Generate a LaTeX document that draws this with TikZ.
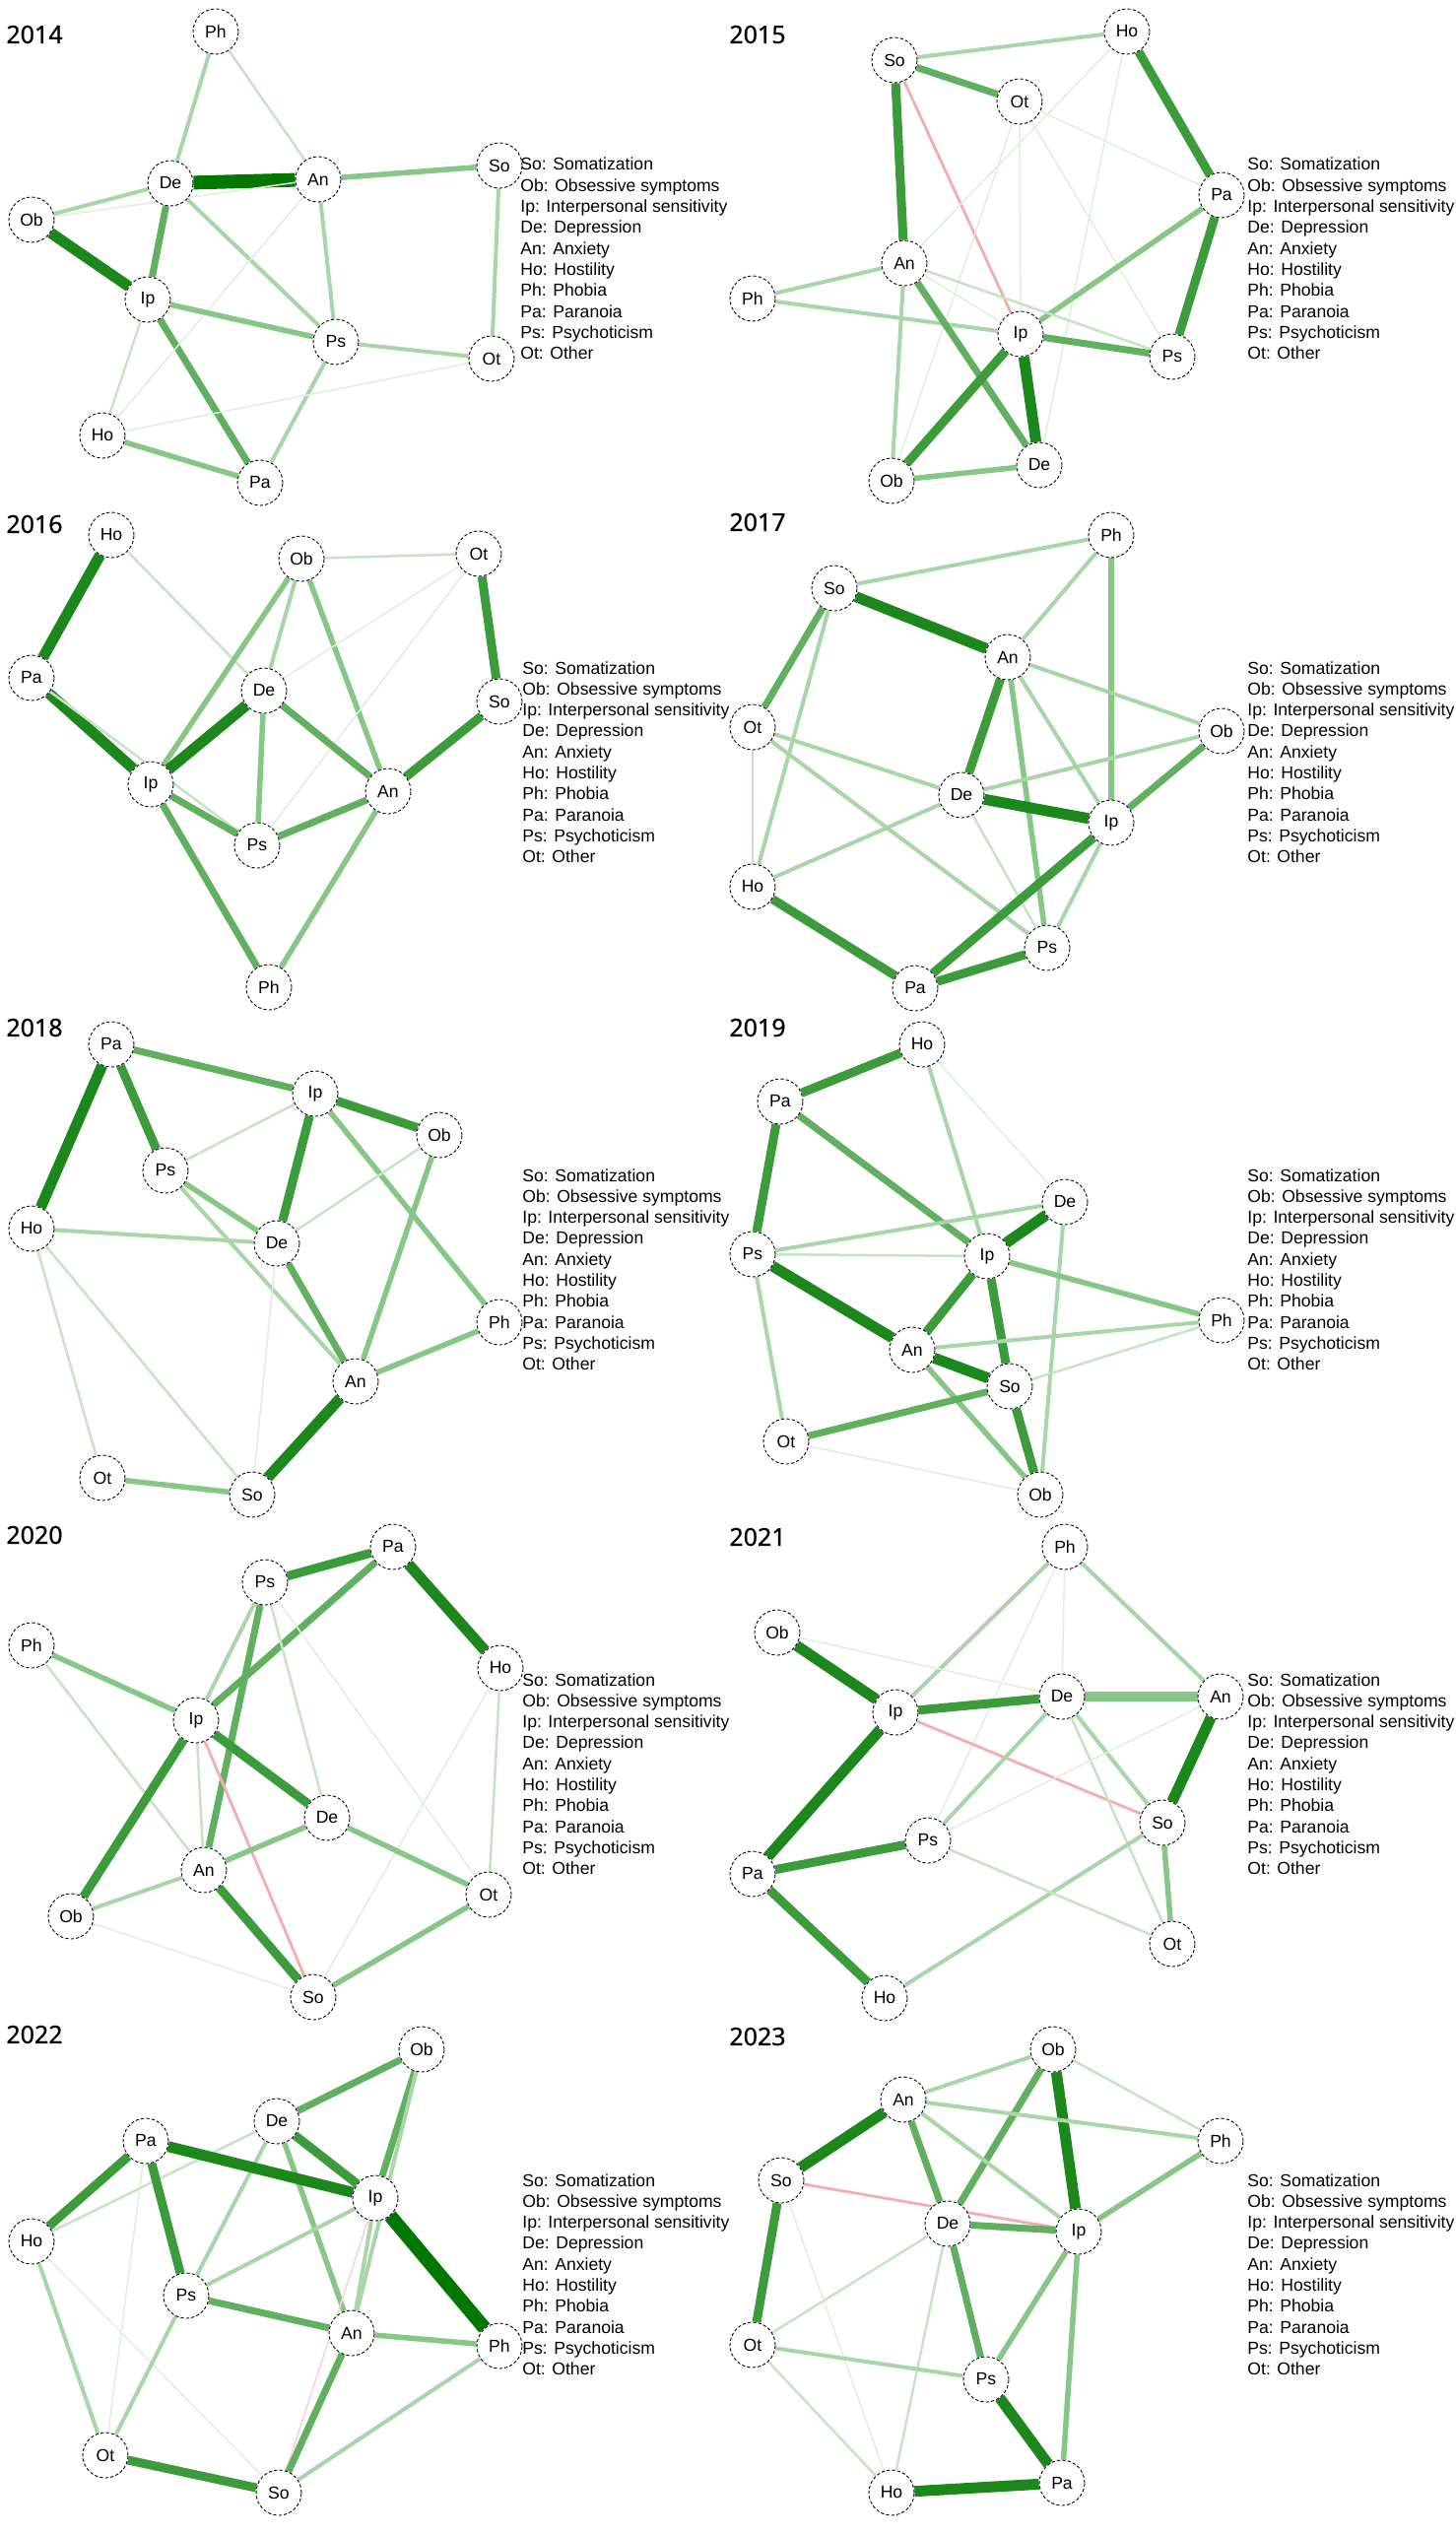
\documentclass[tikz,border=0pt]{standalone}
\usepackage{fontspec}
\setmainfont{Liberation Sans}
\newfontfamily\yearfont[FakeBold=0.6]{Noto Sans}
\pgfdeclarelayer{back}
\pgfdeclarelayer{bg}
\pgfsetlayers{back,bg,main}
\definecolor{c1}{RGB}{222,239,222}
\definecolor{c2}{RGB}{196,228,196}
\definecolor{c3}{RGB}{168,214,168}
\definecolor{c4}{RGB}{134,198,134}
\definecolor{c5}{RGB}{96,176,96}
\definecolor{c6}{RGB}{60,156,60}
\definecolor{c7}{RGB}{28,136,28}
\definecolor{c8}{RGB}{0,120,0}
\definecolor{cneg}{RGB}{245,172,172}
\definecolor{cneg0}{RGB}{250,212,212}
\tikzset{
  x=0.5pt, y=-0.5pt,
  nd/.style={circle, draw=black, dash pattern=on 1.6pt off 1.1pt, line width=0.45pt,
    fill=white, minimum size=23pt, inner sep=0pt, font=\fontsize{8.8pt}{10pt}\selectfont},
  yr/.style={anchor=west, inner sep=0pt, font=\yearfont\fontsize{12.5pt}{14pt}\selectfont},
  leg/.style={anchor=base west, inner sep=0pt, font=\fontsize{8.8pt}{10pt}\selectfont},
  e1/.style={line width=0.75pt, draw=c1},
  e2/.style={line width=1.25pt, draw=c2},
  e3/.style={line width=2pt, draw=c3},
  e4/.style={line width=2.75pt, draw=c4},
  e5/.style={line width=3.5pt, draw=c5},
  e6/.style={line width=4.5pt, draw=c6},
  e7/.style={line width=5.5pt, draw=c7},
  e8/.style={line width=7pt, draw=c8},
  e4w/.style={line width=5pt, draw=c4},
  ng/.style={line width=1.4pt, draw=cneg},
  ngz/.style={line width=0.8pt, draw=cneg0},
}
\newcommand\legendat[3]{%
  \foreach \t [count=\i] in {So: Somatization, Ob: Obsessive symptoms, Ip: Interpersonal sensitivity, De: Depression, An: Anxiety, Ho: Hostility, Ph: Phobia, Pa: Paranoia, Ps: Psychoticism, Ot: Other}
    \node[leg] (#1L\i) at (#2, {#3+(\i-1)*21.3}) {\t};
}
\begin{document}
\begin{tikzpicture}
\begin{pgfonlayer}{back}
\fill[white] (0,0) rectangle (1477,2573);
\end{pgfonlayer}
\useasboundingbox (0,0) rectangle (1477,2573);

% ---------------- 2014
\node[yr] (Ayr) at (6,35) {2014};
\node[nd] (APh) at (219,32) {Ph};
\node[nd] (ADe) at (173,186) {De};
\node[nd] (AAn) at (323,182) {An};
\node[nd] (ASo) at (507,168) {So};
\node[nd] (AOb) at (32,223) {Ob};
\node[nd] (AIp) at (150,304) {Ip};
\node[nd] (APs) at (341,347) {Ps};
\node[nd] (AOt) at (499,364) {Ot};
\node[nd] (AHo) at (104,442) {Ho};
\node[nd] (APa) at (264,490) {Pa};
\legendat{A}{528}{173}
\begin{pgfonlayer}{bg}
\draw[e8] (ADe) -- (AAn);
\draw[e7] (AOb) -- (AIp);
\draw[e5] (ADe) -- (AIp);
\draw[e5] (AIp) -- (APa);
\draw[e4] (AAn) -- (ASo);
\draw[e3] (ASo) -- (AOt);
\draw[e3] (APh) -- (ADe);
\draw[e2] (APh) -- (AAn);
\draw[e3] (AOb) -- (ADe);
\draw[e1] (AOb) -- (AAn);
\draw[e3] (ADe) -- (APs);
\draw[e3] (AAn) -- (APs);
\draw[e1] (AAn) -- (AHo);
\draw[e4] (AIp) -- (APs);
\draw[e2] (AIp) -- (AHo);
\draw[e3] (APs) -- (AOt);
\draw[e3] (APs) -- (APa);
\draw[e4] (AHo) -- (APa);
\draw[e1] (AHo) -- (AOt);
\end{pgfonlayer}

% ---------------- 2015
\node[yr] (Byr) at (740,35) {2015};
\node[nd] (BHo) at (1144,32) {Ho};
\node[nd] (BSo) at (908,61) {So};
\node[nd] (BOt) at (1035,103) {Ot};
\node[nd] (BPa) at (1240,198) {Pa};
\node[nd] (BAn) at (918,267) {An};
\node[nd] (BPh) at (764,303) {Ph};
\node[nd] (BIp) at (1036,339) {Ip};
\node[nd] (BPs) at (1190,362) {Ps};
\node[nd] (BOb) at (905,488) {Ob};
\node[nd] (BDe) at (1055,472) {De};
\legendat{B}{1266}{173}
\begin{pgfonlayer}{bg}
\draw[e3] (BSo) -- (BHo);
\draw[e5] (BSo) -- (BOt);
\draw[e6] (BSo) -- (BAn);
\draw[ng] (BSo) -- (BIp);
\draw[e6] (BHo) -- (BPa);
\draw[e1] (BHo) -- (BAn);
\draw[e1] (BHo) -- (BDe);
\draw[e1] (BOt) -- (BPa);
\draw[e1] (BOt) -- (BIp);
\draw[e1] (BOt) -- (BOb);
\draw[e1] (BOt) -- (BPs);
\draw[e4] (BPa) -- (BIp);
\draw[e6] (BPa) -- (BPs);
\draw[e3] (BAn) -- (BPh);
\draw[e3] (BPh) -- (BIp);
\draw[e1] (BAn) -- (BIp);
\draw[e2] (BAn) -- (BPs);
\draw[e5] (BAn) -- (BDe);
\draw[e3] (BAn) -- (BOb);
\draw[e5] (BIp) -- (BPs);
\draw[e7] (BIp) -- (BDe);
\draw[e6] (BIp) -- (BOb);
\draw[e4] (BOb) -- (BDe);
\end{pgfonlayer}

% ---------------- 2016
\node[yr] (Cyr) at (6,532) {2016};
\node[nd] (CHo) at (113,543) {Ho};
\node[nd] (COb) at (306,567) {Ob};
\node[nd] (COt) at (486,562) {Ot};
\node[nd] (CPa) at (32,688) {Pa};
\node[nd] (CDe) at (268,701) {De};
\node[nd] (CSo) at (507,712) {So};
\node[nd] (CIp) at (153,796) {Ip};
\node[nd] (CAn) at (394,803) {An};
\node[nd] (CPs) at (261,858) {Ps};
\node[nd] (CPh) at (273,1002) {Ph};
\legendat{C}{530}{684}
\begin{pgfonlayer}{bg}
\draw[e7] (CHo) -- (CPa);
\draw[e2] (CHo) -- (CDe);
\draw[e7] (CPa) -- (CIp);
\draw[e2] (CPa) -- (CPs);
\draw[e2] (COb) -- (COt);
\draw[e4] (COb) -- (CIp);
\draw[e3] (COb) -- (CDe);
\draw[e4] (COb) -- (CAn);
\draw[e6] (COt) -- (CSo);
\draw[e1] (COt) -- (CDe);
\draw[e1] (COt) -- (CPs);
\draw[e7] (CDe) -- (CIp);
\draw[e4] (CDe) -- (CPs);
\draw[e5] (CDe) -- (CAn);
\draw[e6] (CSo) -- (CAn);
\draw[e5] (CIp) -- (CPs);
\draw[e5] (CIp) -- (CPh);
\draw[e5] (CAn) -- (CPs);
\draw[e4] (CAn) -- (CPh);
\end{pgfonlayer}

% ---------------- 2017
\node[yr] (Dyr) at (740,530) {2017};
\node[nd] (DPh) at (1128,543) {Ph};
\node[nd] (DSo) at (847,597) {So};
\node[nd] (DAn) at (1023,667) {An};
\node[nd] (DOt) at (764,738) {Ot};
\node[nd] (DOb) at (1240,742) {Ob};
\node[nd] (DDe) at (976,807) {De};
\node[nd] (DIp) at (1128,835) {Ip};
\node[nd] (DHo) at (764,900) {Ho};
\node[nd] (DPs) at (1063,962) {Ps};
\node[nd] (DPa) at (929,1003) {Pa};
\legendat{D}{1266}{684}
\begin{pgfonlayer}{bg}
\draw[e3] (DSo) -- (DPh);
\draw[e7] (DSo) -- (DAn);
\draw[e5] (DSo) -- (DOt);
\draw[e3] (DSo) -- (DHo);
\draw[e3] (DPh) -- (DAn);
\draw[e4] (DPh) -- (DIp);
\draw[e3] (DAn) -- (DOb);
\draw[e6] (DAn) -- (DDe);
\draw[e3] (DAn) -- (DIp);
\draw[e4] (DAn) -- (DPs);
\draw[e3] (DOt) -- (DDe);
\draw[e3] (DOt) -- (DPs);
\draw[e2] (DOt) -- (DHo);
\draw[e3] (DOb) -- (DDe);
\draw[e5] (DOb) -- (DIp);
\draw[e7] (DDe) -- (DIp);
\draw[e3] (DDe) -- (DHo);
\draw[e2] (DDe) -- (DPs);
\draw[e6] (DIp) -- (DPa);
\draw[e3] (DIp) -- (DPs);
\draw[e6] (DHo) -- (DPa);
\draw[e6] (DPa) -- (DPs);
\end{pgfonlayer}

% ---------------- 2018
\node[yr] (Eyr) at (6,1043) {2018};
\node[nd] (EPa) at (113,1060) {Pa};
\node[nd] (EIp) at (320,1110) {Ip};
\node[nd] (EOb) at (446,1152) {Ob};
\node[nd] (EPs) at (168,1188) {Ps};
\node[nd] (EHo) at (32,1247) {Ho};
\node[nd] (EDe) at (281,1262) {De};
\node[nd] (EPh) at (507,1342) {Ph};
\node[nd] (EAn) at (361,1402) {An};
\node[nd] (EOt) at (104,1500) {Ot};
\node[nd] (ESo) at (256,1517) {So};
\legendat{E}{530}{1199}
\begin{pgfonlayer}{bg}
\draw[e5] (EPa) -- (EIp);
\draw[e7] (EPa) -- (EHo);
\draw[e6] (EPa) -- (EPs);
\draw[e6] (EIp) -- (EOb);
\draw[e6] (EIp) -- (EDe);
\draw[e4] (EIp) -- (EPh);
\draw[e2] (EIp) -- (EPs);
\draw[e2] (EOb) -- (EDe);
\draw[e4] (EOb) -- (EAn);
\draw[e4] (EPs) -- (EDe);
\draw[e3] (EPs) -- (EAn);
\draw[e3] (EHo) -- (EDe);
\draw[e2] (EHo) -- (EOt);
\draw[e2] (EHo) -- (ESo);
\draw[e5] (EDe) -- (EAn);
\draw[e1] (EDe) -- (ESo);
\draw[e4] (EAn) -- (EPh);
\draw[e7] (EAn) -- (ESo);
\draw[e4] (EOt) -- (ESo);
\end{pgfonlayer}

% ---------------- 2019
\node[yr] (Fyr) at (740,1043) {2019};
\node[nd] (FHo) at (936,1060) {Ho};
\node[nd] (FPa) at (792,1118) {Pa};
\node[nd] (FDe) at (1081,1220) {De};
\node[nd] (FPs) at (764,1273) {Ps};
\node[nd] (FIp) at (1002,1275) {Ip};
\node[nd] (FPh) at (1240,1340) {Ph};
\node[nd] (FAn) at (926,1370) {An};
\node[nd] (FSo) at (1025,1407) {So};
\node[nd] (FOt) at (798,1463) {Ot};
\node[nd] (FOb) at (1056,1517) {Ob};
\legendat{F}{1266}{1199}
\begin{pgfonlayer}{bg}
\draw[e6] (FHo) -- (FPa);
\draw[e3] (FHo) -- (FIp);
\draw[e1] (FHo) -- (FDe);
\draw[e6] (FPa) -- (FPs);
\draw[e5] (FPa) -- (FIp);
\draw[e3] (FDe) -- (FPs);
\draw[e7] (FDe) -- (FIp);
\draw[e3] (FDe) -- (FOb);
\draw[e2] (FPs) -- (FIp);
\draw[e7] (FPs) -- (FAn);
\draw[e3] (FPs) -- (FOt);
\draw[e4] (FIp) -- (FPh);
\draw[e6] (FIp) -- (FAn);
\draw[e6] (FIp) -- (FSo);
\draw[e3] (FPh) -- (FAn);
\draw[e2] (FPh) -- (FSo);
\draw[e7] (FAn) -- (FSo);
\draw[e4] (FAn) -- (FOb);
\draw[e5] (FSo) -- (FOt);
\draw[e6] (FSo) -- (FOb);
\draw[e1] (FOt) -- (FOb);
\end{pgfonlayer}

% ---------------- 2020
\node[yr] (Gyr) at (6,1558) {2020};
\node[nd] (GPa) at (399,1570) {Pa};
\node[nd] (GPs) at (269,1606) {Ps};
\node[nd] (GPh) at (32,1670) {Ph};
\node[nd] (GHo) at (508,1693) {Ho};
\node[nd] (GIp) at (199,1746) {Ip};
\node[nd] (GDe) at (332,1845) {De};
\node[nd] (GAn) at (207,1898) {An};
\node[nd] (GOt) at (496,1923) {Ot};
\node[nd] (GOb) at (72,1945) {Ob};
\node[nd] (GSo) at (318,2027) {So};
\legendat{G}{530}{1711}
\begin{pgfonlayer}{bg}
\draw[e6] (GPa) -- (GPs);
\draw[e5] (GPa) -- (GIp);
\draw[e7] (GPa) -- (GHo);
\draw[e3] (GPs) -- (GIp);
\draw[e5] (GPs) -- (GAn);
\draw[e2] (GPs) -- (GDe);
\draw[e1] (GPs) -- (GOt);
\draw[e4] (GPh) -- (GIp);
\draw[e2] (GPh) -- (GAn);
\draw[e2] (GHo) -- (GOt);
\draw[e1] (GHo) -- (GSo);
\draw[e6] (GIp) -- (GDe);
\draw[e2] (GIp) -- (GAn);
\draw[e6] (GIp) -- (GOb);
\draw[ng] (GIp) -- (GSo);
\draw[e4] (GDe) -- (GAn);
\draw[e4] (GDe) -- (GOt);
\draw[e3] (GAn) -- (GOb);
\draw[e6] (GAn) -- (GSo);
\draw[e1] (GOb) -- (GSo);
\draw[e4] (GOt) -- (GSo);
\end{pgfonlayer}

% ---------------- 2021
\node[yr] (Hyr) at (740,1560) {2021};
\node[nd] (HPh) at (1081,1570) {Ph};
\node[nd] (HOb) at (789,1657) {Ob};
\node[nd] (HDe) at (1078,1722) {De};
\node[nd] (HAn) at (1239,1722) {An};
\node[nd] (HIp) at (909,1738) {Ip};
\node[nd] (HSo) at (1180,1850) {So};
\node[nd] (HPs) at (942,1868) {Ps};
\node[nd] (HPa) at (764,1902) {Pa};
\node[nd] (HOt) at (1190,1973) {Ot};
\node[nd] (HHo) at (898,2028) {Ho};
\legendat{H}{1266}{1711}
\begin{pgfonlayer}{bg}
\draw[e3] (HPh) -- (HIp);
\draw[e3] (HPh) -- (HAn);
\draw[e1] (HPh) -- (HDe);
\draw[e1] (HPh) -- (HPs);
\draw[e7] (HOb) -- (HIp);
\draw[e1] (HOb) -- (HDe);
\draw[e6] (HIp) -- (HDe);
\draw[e4w] (HDe) -- (HAn);
\draw[ng] (HIp) -- (HSo);
\draw[e7] (HIp) -- (HPa);
\draw[e3] (HDe) -- (HPs);
\draw[e3] (HDe) -- (HSo);
\draw[e2] (HDe) -- (HOt);
\draw[e7] (HAn) -- (HSo);
\draw[e1] (HAn) -- (HPs);
\draw[e4] (HSo) -- (HOt);
\draw[e3] (HSo) -- (HHo);
\draw[e6] (HPs) -- (HPa);
\draw[e2] (HPs) -- (HOt);
\draw[e6] (HPa) -- (HHo);
\end{pgfonlayer}

% ---------------- 2022
\node[yr] (Iyr) at (6,2065) {2022};
\node[nd] (IOb) at (428,2080) {Ob};
\node[nd] (IDe) at (281,2153) {De};
\node[nd] (IPa) at (148,2173) {Pa};
\node[nd] (IIp) at (381,2231) {Ip};
\node[nd] (IHo) at (32,2275) {Ho};
\node[nd] (IPs) at (189,2330) {Ps};
\node[nd] (IAn) at (357,2368) {An};
\node[nd] (IPh) at (507,2381) {Ph};
\node[nd] (IOt) at (107,2492) {Ot};
\node[nd] (ISo) at (283,2530) {So};
\legendat{I}{530}{2219}
\begin{pgfonlayer}{bg}
\draw[e5] (IOb) -- (IDe);
\draw[e5] (IOb) -- (IIp);
\draw[e3] (IOb) -- (IAn);
\draw[e6] (IDe) -- (IIp);
\draw[e4] (IDe) -- (IAn);
\draw[e3] (IDe) -- (IPs);
\draw[e2] (IDe) -- (IHo);
\draw[e7] (IPa) -- (IIp);
\draw[e6] (IPa) -- (IHo);
\draw[e6] (IPa) -- (IPs);
\draw[e1] (IPa) -- (IOt);
\draw[e8] (IIp) -- (IPh);
\draw[e3] (IIp) -- (IPs);
\draw[e3] (IIp) -- (IAn);
\draw[ngz] (IIp) -- (ISo);
\draw[e3] (IHo) -- (IOt);
\draw[e1] (IHo) -- (ISo);
\draw[e5] (IPs) -- (IAn);
\draw[e3] (IPs) -- (IOt);
\draw[e4] (IAn) -- (IPh);
\draw[e5] (IAn) -- (ISo);
\draw[e3] (IPh) -- (ISo);
\draw[e6] (IOt) -- (ISo);
\end{pgfonlayer}

% ---------------- 2023
\node[yr] (Jyr) at (740,2067) {2023};
\node[nd] (JOb) at (1069,2080) {Ob};
\node[nd] (JAn) at (917,2131) {An};
\node[nd] (JPh) at (1239,2173) {Ph};
\node[nd] (JSo) at (793,2213) {So};
\node[nd] (JDe) at (962,2257) {De};
\node[nd] (JIp) at (1095,2265) {Ip};
\node[nd] (JOt) at (764,2380) {Ot};
\node[nd] (JPs) at (1001,2415) {Ps};
\node[nd] (JPa) at (1078,2520) {Pa};
\node[nd] (JHo) at (905,2530) {Ho};
\legendat{J}{1266}{2219}
\begin{pgfonlayer}{bg}
\draw[e3] (JOb) -- (JAn);
\draw[e2] (JOb) -- (JPh);
\draw[e5] (JOb) -- (JDe);
\draw[e7] (JOb) -- (JIp);
\draw[e7] (JAn) -- (JSo);
\draw[e3] (JAn) -- (JPh);
\draw[e5] (JAn) -- (JDe);
\draw[e3] (JAn) -- (JIp);
\draw[ng] (JSo) -- (JIp);
\draw[e6] (JSo) -- (JOt);
\draw[e1] (JSo) -- (JHo);
\draw[e4] (JPh) -- (JIp);
\draw[e5] (JDe) -- (JIp);
\draw[e5] (JDe) -- (JPs);
\draw[e2] (JDe) -- (JOt);
\draw[e2] (JDe) -- (JHo);
\draw[e4] (JIp) -- (JPs);
\draw[e4] (JIp) -- (JPa);
\draw[e3] (JOt) -- (JPs);
\draw[e2] (JOt) -- (JHo);
\draw[e7] (JPs) -- (JPa);
\draw[e7] (JHo) -- (JPa);
\end{pgfonlayer}
\end{tikzpicture}
\end{document}
